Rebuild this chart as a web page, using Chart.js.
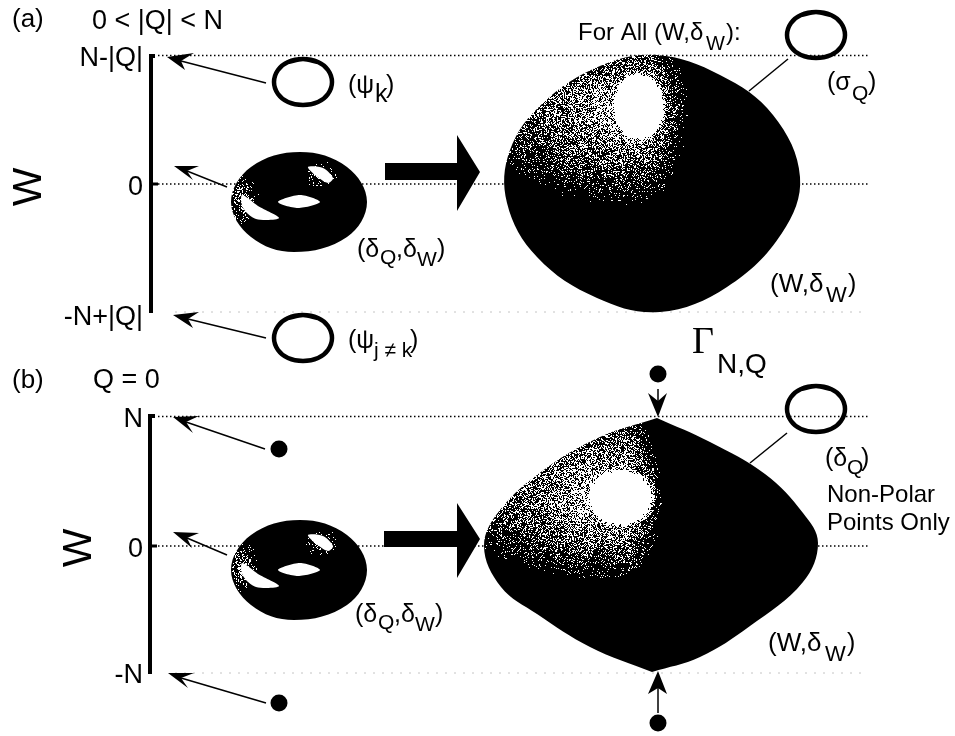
<!DOCTYPE html>
<html>
<head>
<meta charset="utf-8">
<style>
    html, body { margin: 0; padding: 0; background: #fff; }
    canvas { display: block; }
</style>
<script src="https://cdn.jsdelivr.net/npm/chart.js@4"></script>
</head>
<body>
<canvas id="figure" width="955" height="736"></canvas>
<script>
// outlines, in picture pixels
var blobA = [[657,55],[720,75],[773,115],[800,177],[782,233],[727,287],[660,312],[597,298],[537,257],[507,203],[510,150],[543,103],[600,66]];
var blobB = [[657,418],[657,418],[710,442],[765,474],[803,513],[818,543],[803,582],[750,626],[700,657],[652,672],[652,672],[590,647],[537,614],[501,587],[484,546],[500,510],[545,469],[600,437],[657,418],[657,418]];
var torusBody = [[300,152],[347,167],[367,202],[347,237],[294,252],[251,237],[231,202],[251,167]];
var torusHole = [[278,202],[300,195],[320,202],[298,208]];
var torusGlintTop = [[308,167],[323,168],[333,178],[328,183],[315,175]];
var torusGlintLeft = [[242,195],[258,206],[279,218],[256,219],[243,208]];
var ringShape = [[0,-23],[15,-20],[25,-12],[29,0],[25,12],[15,20],[0,23],[-15,20],[-25,12],[-29,0],[-25,-12],[-15,-20]];
var ringCentres = [[303,82],[303,338],[816,35],[816,409]];
var dotCentres = [[279,449],[279,703],[658,374],[658,723]];
var panelShift = 368;

// [tail, notch, barb, tip, barb]
var thinArrows = [
    [[266,83],[181,61],[194,53],[167,57],[185,70]],
    [[227,187],[187,171],[199,166],[174,166],[193,180]],
    [[266,338],[188,319],[199,312],[173,315],[193,328]],
    [[265,449],[186,422],[199,416],[173,417],[193,433]],
    [[227,555],[187,538],[199,533],[173,532],[192,548]],
    [[266,703],[181,678],[194,673],[168,673],[188,688]],
    [[658,389],[658,401],[648,393],[658,417],[667,393]],
    [[658,713],[658,688],[648,694],[658,671],[667,694]]
];
var thickArrowA = [[385,163],[457,163],[457,135],[480,172],[457,211],[457,180],[385,180],[385,163]];
var thickArrowB = [[384,531],[457,531],[457,503],[480,539],[457,578],[457,547],[384,547],[384,531]];
var connectors = [[[788,59],[749,91]],[[787,433],[750,463]]];
var axisBars = [[[155,56],[151,56],[151,313]],[[155,416],[150,416],[150,674]]];
var axisTicks = [[[151,184],[158,184]],[[150,546],[157,546]]];
var dottedRules = [[[158,55.5],[868,55.5]],[[158,184],[868,184]],[[158,416.5],[868,416.5]],[[158,546],[868,546]]];
var faintRules = [[[175,312],[865,312]],[[175,673],[865,673]]];

var labelTexts = ["(a)","0 < |Q| < N","N-|Q|","0","-N+|Q|","(\u03c8","k",")","(\u03c8","j \u2260 k",")",
    "(\u03b4","Q",",\u03b4","W",")","For All (W,\u03b4","W","):","(\u03c3","Q",")","(W,\u03b4","W",")",
    "(b)","Q = 0","N","0","-N","(\u03b4","Q",",\u03b4","W",")","(\u03b4","Q",")","Non-Polar","Points Only","(W,\u03b4","W",")","N,Q"];
var labelX = [12,92,143,143,143,348,375,386,348,374,410,
    357,380,396,417,437,578,706,726,827,852,868,770,826,848,
    12,93,143,143,143,355,378,394,415,435,825,847,861,827,827,768,825,847,717];
var labelY = [27,29,66,195,325,93,102,93,348,357,348,
    257,264,257,266,257,40,50,40,90,100,90,292,302,292,
    388,388,427,557,683,622,629,622,631,622,466,474,466,502,530,651,661,651,373];
var labelSizes = [26,27,27,27,27,25,25,25,25,21,25,
    25,21,25,21,25,24,20,24,25,21,25,26,22,25,
    26,27,27,27,27,25,21,25,21,25,25,21,25,24,24,26,22,25,28];
var labelAlign = [];
labelAlign[2] = labelAlign[3] = labelAlign[4] = labelAlign[27] = labelAlign[28] = labelAlign[29] = "right";

var axisNames = ["W","W"];
var axisNameX = [30,80];
var axisNameY = [187,548];
var gammaText = "\u0393";

function toPoints(list) {
    return list.map(function (p) { return { x: p[0], y: p[1] }; });
}

function closeLoop(list) {
    return [list[list.length - 1]].concat(list, [list[0], list[1]]);
}

function shifted(list, dx, dy) {
    return list.map(function (p) { return [p[0] + dx, p[1] + dy]; });
}

// stippled black and white fill, the figure is a dithered scan
function stipple(lights) {
    var off = document.createElement("canvas");
    off.width = 955;
    off.height = 736;
    var c = off.getContext("2d");
    var img = c.createImageData(955, 736);
    for (var y = 0; y < 736; y++) {
        for (var x = 0; x < 955; x++) {
            var b = 0;
            lights.forEach(function (h) {
                var dx = x - h.x, dy = y - h.y;
                var core = Math.sqrt(dx * dx / (h.rx * h.rx) + dy * dy / (h.ry * h.ry));
                var wash = Math.sqrt(dx * dx / Math.pow(dx < 0 ? h.l : h.r, 2) + dy * dy / Math.pow(dy < 0 ? h.u : h.d, 2));
                b = Math.max(b, (1.3 - core) / 0.3, h.amp * (1 - wash));
            });
            var n = Math.sin(x * 12.9898 + y * 78.233) * 43758.5453;
            n = n - Math.floor(n);
            var v = b > n ? 255 : 0;
            var i = (y * 955 + x) * 4;
            img.data[i] = img.data[i + 1] = img.data[i + 2] = v;
            img.data[i + 3] = 255;
        }
    }
    c.putImageData(img, 0, 0);
    return c.createPattern(off, "no-repeat");
}

var datasets = [];

function addLine(list, width, color, dash) {
    datasets.push({
        data: toPoints(list), showLine: true, pointRadius: 0, tension: 0,
        borderColor: color, borderWidth: width, borderDash: dash || [], borderCapStyle: "butt"
    });
}

function addShape(list, fillColor, tension) {
    datasets.push({
        data: toPoints(list), showLine: true, pointRadius: 0, tension: tension,
        borderWidth: 0, borderColor: "rgba(0,0,0,0)", backgroundColor: fillColor, fill: "shape"
    });
}

faintRules.forEach(function (r) { addLine(r, 1, "#c4c4c4", [2, 7]); });
dottedRules.forEach(function (r) { addLine(r, 1.5, "#000", [1.5, 2.5]); });

var hiA = { x: 638, y: 106, rx: 24, ry: 31, l: 175, r: 50, u: 75, d: 100, amp: 0.8 };
var hiB = { x: 620, y: 497, rx: 30, ry: 26, l: 175, r: 42, u: 95, d: 85, amp: 0.85 };
addShape(closeLoop(blobA), stipple([hiA]), 0.38);
addShape(blobB, stipple([hiB]), 0.38);

[0, panelShift].forEach(function (dy) {
    var edge = { x: 238, y: 200 + dy, rx: 1, ry: 1, l: 12, r: 22, u: 30, d: 25, amp: 0.4 };
    var top = { x: 322, y: 175 + dy, rx: 1, ry: 1, l: 18, r: 18, u: 14, d: 14, amp: 0.3 };
    addShape(closeLoop(shifted(torusBody, 0, dy)), stipple([edge, top]), 0.38);
    addShape(closeLoop(shifted(torusHole, 0, dy)), "#fff", 0.3);
    addShape(closeLoop(shifted(torusGlintTop, 0, dy)), "#fff", 0.3);
    addShape(closeLoop(shifted(torusGlintLeft, 0, dy)), "#fff", 0.3);
});

addShape(thickArrowA, "#000", 0);
addShape(thickArrowB, "#000", 0);

axisBars.forEach(function (b) { addLine(b, 4, "#000"); });
axisTicks.forEach(function (b) { addLine(b, 3, "#000"); });
connectors.forEach(function (c) { addLine(c, 1.5, "#000"); });

thinArrows.forEach(function (a) {
    addLine(a.slice(0, 2), 1.5, "#000");
    addShape(a.slice(1).concat([a[1]]), "#000", 0);
});

ringCentres.forEach(function (c) {
    datasets.push({
        data: toPoints(closeLoop(shifted(ringShape, c[0], c[1]))), showLine: true, pointRadius: 0,
        tension: 0.35, borderColor: "#000", borderWidth: 4.5
    });
});

datasets.push({
    data: toPoints(dotCentres), showLine: false, pointRadius: 8.5,
    pointBackgroundColor: "#000", pointBorderWidth: 0
});

datasets.forEach(function (d, i) { d.order = -i; });

var textPlugin = {
    id: "figureText",
    afterDraw: function (chart) {
        var ctx = chart.ctx;
        var sx = chart.scales.x, sy = chart.scales.y;
        ctx.save();
        ctx.fillStyle = "#000";
        ctx.textBaseline = "alphabetic";
        labelTexts.forEach(function (t, i) {
            ctx.font = labelSizes[i] + 'px "Liberation Sans"';
            ctx.textAlign = labelAlign[i] || "left";
            ctx.fillText(t, sx.getPixelForValue(labelX[i]), sy.getPixelForValue(labelY[i]));
        });
        ctx.textAlign = "left";
        ctx.font = '38px "Liberation Serif"';
        ctx.fillText(gammaText, sx.getPixelForValue(692), sy.getPixelForValue(353));
        ctx.textAlign = "center";
        ctx.textBaseline = "middle";
        ctx.font = '41px "Liberation Sans"';
        axisNames.forEach(function (t, i) {
            ctx.save();
            ctx.translate(sx.getPixelForValue(axisNameX[i]), sy.getPixelForValue(axisNameY[i]));
            ctx.rotate(-Math.PI / 2);
            ctx.fillText(t, 0, 0);
            ctx.restore();
        });
        ctx.restore();
    }
};

new Chart(document.getElementById("figure"), {
    type: "scatter",
    data: { datasets: datasets },
    plugins: [textPlugin],
    options: {
        responsive: false,
        devicePixelRatio: 1,
        animation: false,
        events: [],
        layout: { padding: 0, autoPadding: false },
        plugins: { legend: { display: false }, tooltip: { enabled: false }, title: { display: false } },
        scales: {
            x: { type: "linear", display: false, min: 0, max: 955 },
            y: { type: "linear", display: false, min: 0, max: 736, reverse: true }
        }
    }
});
</script>
</body>
</html>
